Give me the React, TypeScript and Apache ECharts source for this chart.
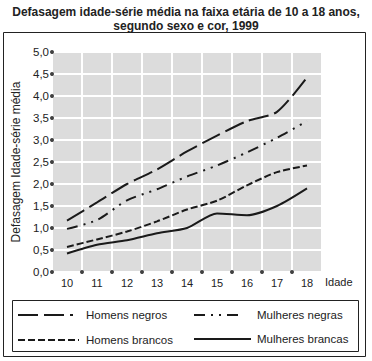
import React, { useEffect, useRef } from "react";
import * as echarts from "echarts";

const categories = ["10", "11", "12", "13", "14", "15", "16", "17", "18"];
const homensNegros = [1.17, 1.58, 2.0, 2.33, 2.74, 3.1, 3.43, 3.64, 4.42];
const mulheresNegras = [0.98, 1.18, 1.63, 1.88, 2.17, 2.42, 2.72, 3.05, 3.43];
const homensBrancos = [0.57, 0.74, 0.92, 1.15, 1.42, 1.62, 1.97, 2.27, 2.42];
const mulheresBrancas = [0.42, 0.62, 0.72, 0.88, 1.0, 1.33, 1.29, 1.5, 1.9];
const yTicks = [0, 0.5, 1, 1.5, 2, 2.5, 3, 3.5, 4, 4.5, 5];
const xBoundaries = [1, 2, 3, 4, 5, 6, 7, 8];

const FONT = "Liberation Sans, Arial, sans-serif";
const INK = "#1a1a1a";

export default function App() {
  const ref = useRef<HTMLDivElement>(null);
  useEffect(() => {
    if (!ref.current) return;
    const chart = echarts.init(ref.current, undefined, { renderer: "svg" });
    const dots: number[][] = [
      ...yTicks.map((v) => [0, v]),
      ...xBoundaries.map((k) => [k, 0]),
    ];
    const lineSeries = (name: string, data: number[], type: any) => ({
      name,
      type: "line",
      data,
      symbol: "none",
      smooth: 0.25,
      lineStyle: { color: INK, width: 2, type },
      itemStyle: { color: INK },
    });
    const legendBase = (name: string, left: number, top: number, itemWidth: number, padLeft: number) => ({
      data: [name],
      left,
      top,
      padding: 0,
      itemWidth,
      itemHeight: 12,
      orient: "horizontal",
      selectedMode: false,
      itemStyle: { opacity: 0 },
      textStyle: { fontFamily: FONT, fontSize: 11.5, color: "#222", padding: [0, 0, 0, padLeft] },
    });
    chart.setOption({
      animation: false,
      backgroundColor: "#ffffff",
      textStyle: { fontFamily: FONT },
      title: {
        text: "Defasagem idade-série média na faixa etária de 10 a 18 anos,\nsegundo sexo e cor, 1999",
        left: "center",
        top: 0,
        textStyle: { fontFamily: FONT, fontSize: 12, fontWeight: "bold", color: "#222", lineHeight: 14 },
      },
      grid: {
        left: 52,
        right: 50,
        top: 52,
        bottom: 89,
        show: true,
        backgroundColor: "#dcdcdc",
        borderWidth: 0,
      },
      xAxis: [
        {
          type: "category",
          data: categories,
          boundaryGap: true,
          name: "Idade",
          nameLocation: "end",
          nameGap: 3,
          nameTextStyle: { fontFamily: FONT, fontSize: 11, color: "#222", verticalAlign: "top", align: "left", padding: [4, 0, 0, 0] },
          axisLine: { show: false },
          axisTick: { show: false },
          axisLabel: { fontFamily: FONT, fontSize: 11, color: "#222", margin: 5 },
          splitLine: { show: true, lineStyle: { color: "#ffffff", width: 2 } },
        },
        {
          type: "value",
          min: 0,
          max: 9,
          show: false,
        },
      ],
      yAxis: {
        type: "value",
        min: 0,
        max: 5,
        interval: 0.5,
        name: "Defasagem Idade-série média",
        nameLocation: "middle",
        nameGap: 24,
        nameTextStyle: { fontFamily: FONT, fontSize: 12, color: "#222" },
        axisLine: { show: false },
        axisTick: { show: false },
        axisLabel: {
          fontFamily: FONT,
          fontSize: 11.5,
          color: "#222",
          margin: 3,
          formatter: (v: number) => v.toFixed(1).replace(".", ","),
        },
        splitLine: { show: true, lineStyle: { color: "#ffffff", width: 2 } },
      },
      legend: [
        legendBase("Homens negros", 17, 309, 55, 8),
        legendBase("Mulheres negras", 193, 309, 50, 8),
        legendBase("Homens brancos", 17, 334, 61, 2),
        legendBase("Mulheres brancas", 193, 333, 57, 1),
      ],
      graphic: [
        { type: "rect", shape: { x: 3.5, y: 32.5, width: 362, height: 324 }, style: { fill: "none", stroke: "#222", lineWidth: 1 }, silent: true },
        { type: "rect", shape: { x: 12.5, y: 300.5, width: 346, height: 51 }, style: { fill: "none", stroke: "#222", lineWidth: 1 }, silent: true },
      ],
      series: [
        lineSeries("Homens negros", homensNegros, [20, 6]),
        lineSeries("Mulheres negras", mulheresNegras, [11, 6, 2, 6, 2, 6]),
        lineSeries("Homens brancos", homensBrancos, [7, 3]),
        lineSeries("Mulheres brancas", mulheresBrancas, "solid"),
        {
          type: "scatter",
          xAxisIndex: 1,
          data: dots,
          symbol: "circle",
          symbolSize: 4,
          clip: false,
          itemStyle: { color: "#111" },
          silent: true,
          z: 5,
        },
      ],
    });
    return () => chart.dispose();
  }, []);
  return <div ref={ref} style={{ width: 372, height: 361, position: "absolute", left: 0, top: 0 }} />;
}
